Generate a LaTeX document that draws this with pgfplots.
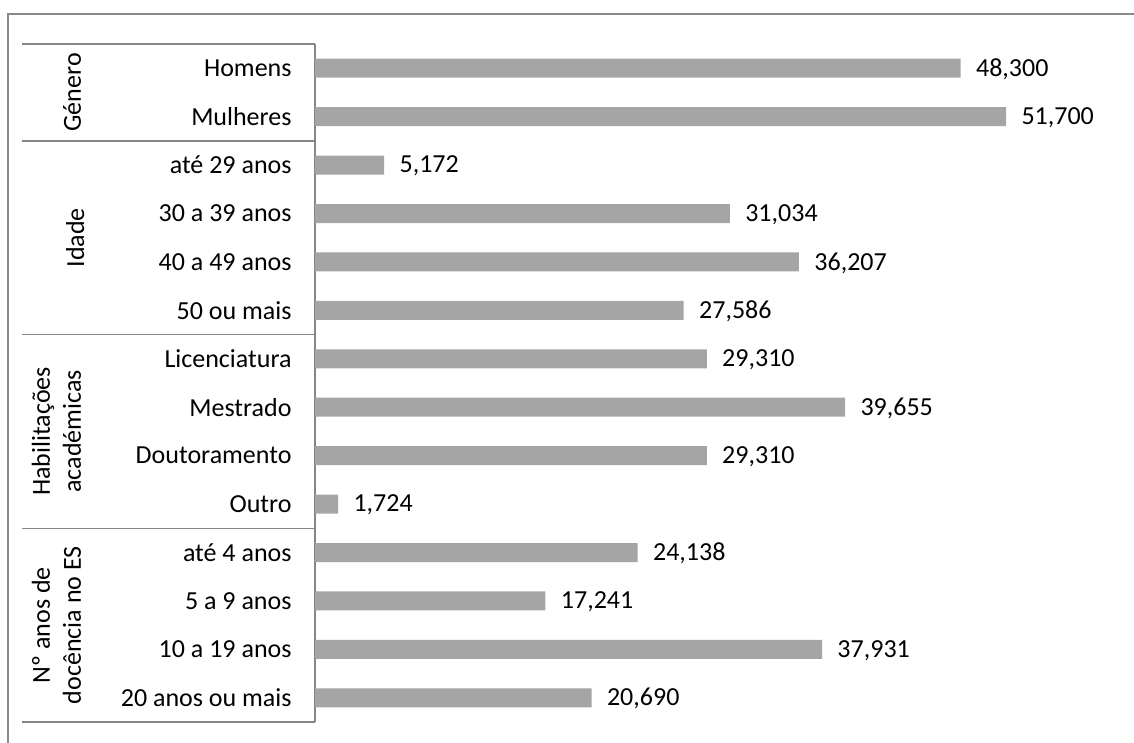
\documentclass[border=0pt]{standalone}
\usepackage{fontspec}
\setmainfont{Carlito}
\usepackage{pgfplots}
\pgfplotsset{compat=1.18}
\definecolor{barfill}{HTML}{A5A5A5}
\definecolor{linegray}{HTML}{868686}
\definecolor{framegray}{HTML}{898989}

\begin{document}
\begin{tikzpicture}[x=0.5pt,y=0.5pt]
\useasboundingbox (0,0) rectangle (1134,743);
% outer chart frame (right and bottom edges lie outside the picture)
\draw[framegray, line width=0.8pt] (8,-10) -- (8,729) -- (1150,729);
\begin{axis}[
  at={(157.5pt,10.5pt)}, anchor=south west,
  scale only axis, width=401pt, height=339pt,
  xmin=0, xmax=60, ymin=-0.5, ymax=13.5, y dir=reverse,
  axis x line=none, axis y line*=left,
  y axis line style={linegray, line width=0.75pt},
  ytick={0,...,13}, major tick length=0pt,
  yticklabels={Homens,Mulheres,até 29 anos,30 a 39 anos,40 a 49 anos,50 ou mais,Licenciatura,Mestrado,Doutoramento,Outro,até 4 anos,5 a 9 anos,10 a 19 anos,20 anos ou mais},
  yticklabel style={font=\fontsize{13pt}{15.5pt}\selectfont, anchor=east, xshift=-8.2pt, text=black},
  xbar, bar width=9.5pt,
  nodes near coords, point meta=explicit symbolic,
  nodes near coords style={font=\fontsize{13pt}{15.5pt}\selectfont, anchor=west, xshift=4.2pt, yshift=-0.5pt, text=black},
  clip=false,
]
\addplot[fill=barfill, draw=none] coordinates {
  (48.300,0) [48,300]
  (51.700,1) [51,700]
  (5.172,2) [5,172]
  (31.034,3) [31,034]
  (36.207,4) [36,207]
  (27.586,5) [27,586]
  (29.310,6) [29,310]
  (39.655,7) [39,655]
  (29.310,8) [29,310]
  (1.724,9) [1,724]
  (24.138,10) [24,138]
  (17.241,11) [17,241]
  (37.931,12) [37,931]
  (20.690,13) [20,690]
};
% group separators
\foreach \yy in {-0.5,1.5,5.5,9.5,13.5} {
  \edef\temp{\noexpand\draw[linegray, line width=0.75pt] (axis cs:-21.9,\yy) -- (axis cs:0,\yy);}
  \temp
}
% group labels
\node[rotate=90, font=\fontsize{13pt}{15.5pt}\selectfont] at (axis cs:-18.17,0.5) {Género};
\node[rotate=90, font=\fontsize{13pt}{15.5pt}\selectfont] at (axis cs:-17.95,3.5) {Idade};
\node[rotate=90, align=center, font=\fontsize{13pt}{15.5pt}\selectfont] at (axis cs:-19.35,7.5) {Habilitações\\académicas};
\node[rotate=90, align=center, font=\fontsize{13pt}{15.5pt}\selectfont] at (axis cs:-19.35,11.5) {Nº anos de\\docência no ES};
\end{axis}
\end{tikzpicture}
\end{document}
